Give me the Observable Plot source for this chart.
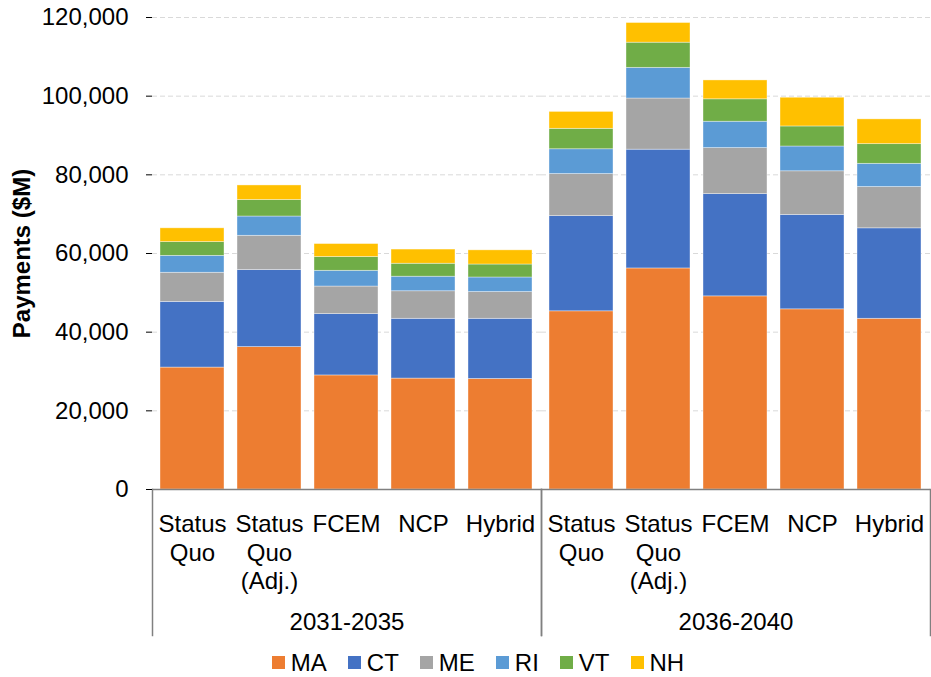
<!DOCTYPE html>
<html>
<head>
<meta charset="utf-8">
<script src="https://cdn.jsdelivr.net/npm/d3@7"></script>
<script src="https://cdn.jsdelivr.net/npm/@observablehq/plot@0.6"></script>
<style>
  html, body { margin: 0; padding: 0; background: #fff; }
  body { width: 931px; height: 677px; overflow: hidden; font-family: "Liberation Sans", Arial, sans-serif; }
  #chart svg [aria-label="y-axis label"] text, #chart svg [aria-label="y-axis label"] { font-weight: bold; }
  #legend { display: flex; justify-content: center; margin-top: 6px; padding-left: 46px; }
  .lg-swatch { margin-right: 21px !important; }
  .lg-swatch > svg { margin-right: 6px !important; }
</style>
</head>
<body>
<div id="chart"></div>
<div id="legend"></div>
<script>
const periods = ["2031-2035", "2036-2040"];
const scenarios = ["Status Quo", "Status Quo (Adj.)", "FCEM", "NCP", "Hybrid"];
const scenarioLabels = ["Status\nQuo", "Status\nQuo\n(Adj.)", "FCEM", "NCP", "Hybrid"];
const states = ["MA", "CT", "ME", "RI", "VT", "NH"];
const stateColors = ["#ED7D31", "#4472C4", "#A5A5A5", "#5B9BD5", "#70AD47", "#FFC000"];
const yTicks = [0, 20000, 40000, 60000, 80000, 100000, 120000];

// values in $M, order: 2031-2035 (SQ, SQ Adj, FCEM, NCP, Hybrid), then 2036-2040 (same)
const MA = [31000, 36200, 29000, 28200, 28100, 45300, 56200, 49100, 45800, 43400];
const CT = [16700, 19600, 15600, 15200, 15300, 24200, 30200, 26000, 24000, 23000];
const ME = [7400, 8700, 7000, 7000, 6800, 10700, 13000, 11700, 11100, 10500];
const RI = [4300, 4900, 4000, 3700, 3700, 6300, 7800, 6700, 6300, 5900];
const VT = [3500, 4200, 3500, 3300, 3300, 5200, 6400, 5700, 5100, 5000];
const NH = [3500, 3700, 3300, 3600, 3600, 4300, 5000, 4800, 7300, 6300];

const seriesList = [MA, CT, ME, RI, VT, NH];
const data = [];
periods.forEach((p, pi) => {
  scenarios.forEach((s, si) => {
    states.forEach((st, k) => {
      data.push({period: p, scenario: s, state: st, value: seriesList[k][pi * scenarios.length + si]});
    });
  });
});

const labelOf = new Map(scenarios.map((s, i) => [s, scenarioLabels[i]]));
const font = "Liberation Sans, Arial, sans-serif";
const fs = 24;

const chart = Plot.plot({
  width: 931,
  height: 640,
  marginLeft: 152,
  marginRight: 1,
  marginTop: 17,
  marginBottom: 151,
  style: {fontFamily: font, fontSize: fs + "px", color: "#000", background: "#fff"},
  fx: {domain: periods, padding: 0, axis: null},
  x: {domain: scenarios, paddingInner: 0.165, paddingOuter: 0.0825, axis: null},
  y: {domain: [0, 120000], axis: null},
  color: {domain: states, range: stateColors},
  marks: [
    Plot.gridY(yTicks, {stroke: "#d9d9d9", strokeOpacity: 1, strokeDasharray: "5,3", strokeWidth: 1}),
    Plot.barY(data, {fx: "period", x: "scenario", y: "value", fill: "state", stroke: "#ffffff", strokeOpacity: 0.5, strokeWidth: 0.75}),
    Plot.ruleY([0], {stroke: "#808080", strokeWidth: 1.5}),
    Plot.frame({anchor: "left", insetTop: 472, insetBottom: -146, stroke: "#808080", strokeWidth: 1.5}),
    Plot.frame({anchor: "right", insetTop: 472, insetBottom: -146, stroke: "#808080", strokeWidth: 1.5}),
    Plot.axisY({ticks: yTicks, tickFormat: d => d3.format(",")(d), tickSize: 6, tickPadding: 18, fontSize: fs, line: true, stroke: "#000",
      label: "Payments ($M)", labelAnchor: "center", labelArrow: "none", labelOffset: 140}),
    Plot.axisX({anchor: "bottom", tickSize: 0, tickPadding: 23, fontSize: fs, lineHeight: 1.17, tickFormat: d => labelOf.get(d), label: null}),
    Plot.axisFx({anchor: "bottom", tickSize: 0, tickPadding: 123, fontSize: fs, label: null})
  ]
});
document.getElementById("chart").appendChild(chart);

const legend = chart.legend("color", {swatchSize: 13, className: "lg", style: {fontSize: fs + "px", fontFamily: font, color: "#000"}});
document.getElementById("legend").appendChild(legend);
</script>
</body>
</html>
